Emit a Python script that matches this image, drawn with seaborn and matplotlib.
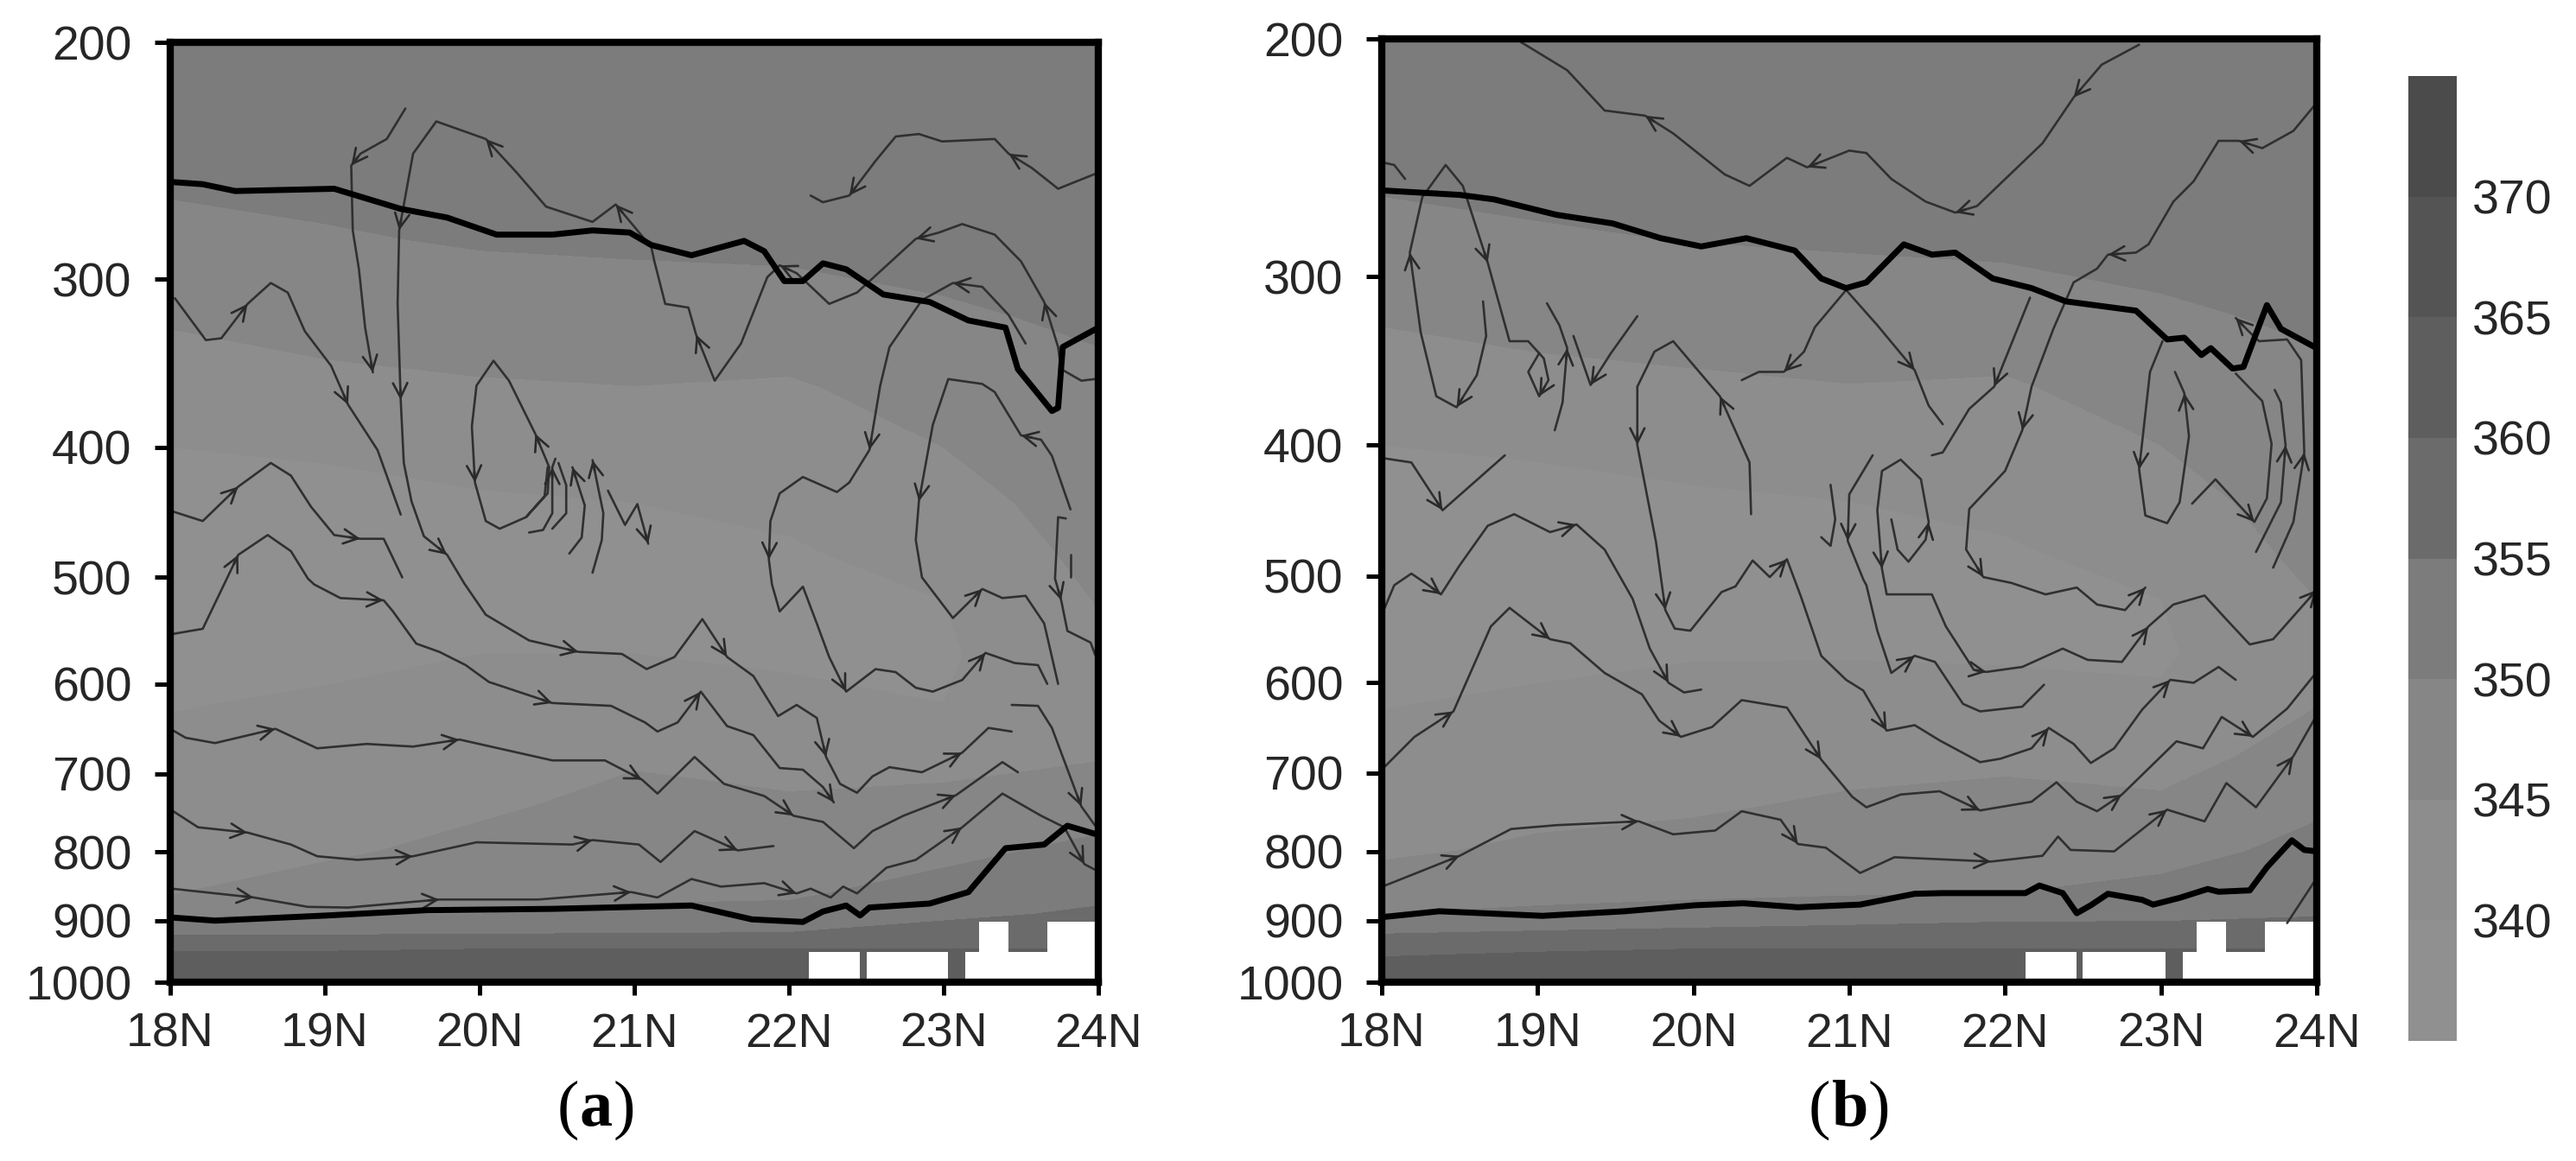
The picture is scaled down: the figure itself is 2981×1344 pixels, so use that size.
# Cross sections of equivalent potential temperature with streamlines
import numpy as np
import pandas as pd
import seaborn as sns
import matplotlib.pyplot as plt
from matplotlib.colors import ListedColormap, BoundaryNorm

# Axis ticks
lat_ticks = [18, 19, 20, 21, 22, 23, 24]
lat_labels = ['18N', '19N', '20N', '21N', '22N', '23N', '24N']
pres_ticks = [200, 300, 400, 500, 600, 700, 800, 900, 1000]
pres_labels = ['200', '300', '400', '500', '600', '700', '800', '900', '1000']

# Shading levels and colours from the colour bar
theta_levels = [335, 340, 345, 350, 355, 360, 365, 370, 375]
theta_ticks = [340, 345, 350, 355, 360, 365, 370]
theta_colors = ['#909090', '#8d8d8d', '#868686', '#7c7c7c', '#6b6b6b', '#5e5e5e', '#545454', '#4b4b4b']

# Theta grid, read by eye
grid_lat = [18, 19, 20, 21, 22, 23, 24]
grid_pres = [200, 280, 320, 360, 400, 440, 480, 520, 570, 620, 680, 740, 800, 860, 890, 920, 945, 1000]
theta_a = [
    [354, 354, 354, 354, 354, 354, 354],
    [348.8, 349.6, 350.4, 350.7, 351, 351.5, 352],
    [345.4, 346.8, 347.5, 347.9, 348, 349.4, 350.7],
    [343, 343.8, 344.6, 345, 344.5, 347.2, 349],
    [340, 340.4, 341.5, 342.5, 342.7, 345, 348],
    [339, 339, 339.5, 340, 340.9, 343.3, 347],
    [338, 338, 338.5, 339, 339.5, 341.7, 346.2],
    [337.5, 338, 338.5, 339, 338.7, 340, 345.2],
    [339, 339.3, 340, 340, 339.5, 339.5, 343.5],
    [339.8, 340.4, 340.9, 341.5, 340.8, 340, 344],
    [340.9, 341.7, 342.6, 344.5, 343.4, 343.5, 344.7],
    [342.2, 343, 344.3, 346.3, 345.7, 346.4, 348],
    [343.5, 344.3, 346.4, 347.8, 347.5, 348.8, 351.3],
    [344.9, 347.4, 348.8, 349.4, 349.4, 352, 354],
    [349.1, 349.8, 350, 350.7, 351.3, 354, 355.7],
    [354.5, 354.5, 354.8, 355, 355.2, 356.9, 358.1],
    [359.8, 359.8, 360, 360, 360, 360, 360],
    [363, 363, 363, 363, 363, 363, 363],
]
theta_b = [
    [354, 354, 354, 354, 354, 354, 354],
    [348.8, 349.6, 350.2, 350.6, 351, 351.5, 352],
    [345.4, 346.6, 347.3, 347.6, 347.9, 349.4, 350.7],
    [343, 343.6, 344.3, 345, 344.6, 347.2, 349],
    [340, 340.4, 341.2, 342.3, 342.8, 345, 348],
    [339, 339, 339.5, 340, 341, 343.3, 347],
    [338, 338, 338.5, 339, 339.5, 341.7, 346.2],
    [337.5, 338, 338.5, 339, 338.7, 340, 345],
    [339, 339.2, 339.8, 339.8, 339.5, 339.5, 343.5],
    [339.8, 340.5, 340.9, 341.2, 341.4, 340.5, 344.8],
    [341.1, 342.1, 342.6, 343.5, 344.1, 343.2, 346.9],
    [342.7, 343.8, 344.4, 345.7, 346.3, 345.8, 349.3],
    [344.3, 345.8, 346.7, 347.7, 348.1, 348.3, 351.4],
    [347.7, 348.8, 349.2, 349.7, 350, 351.5, 353.6],
    [350, 350.8, 351.8, 352.6, 353.5, 353.8, 354.6],
    [354.8, 355.6, 356.2, 356.7, 357.1, 356.9, 357.3],
    [359.1, 359.7, 360, 360, 360, 360, 360],
    [363, 363, 363, 363, 363, 363, 363],
]

# Missing data near the ground (same in both panels)
gap_left = [22.13, 22.50, 23.14, 23.23, 23.42, 23.67]
gap_right = [22.46, 23.03, 23.23, 23.42, 23.67, 24.0]
gap_top = [950, 950, 950, 902, 950, 902]

# Panel a: boundary layer top and tropopause, as (lat, hPa)
a_upper = [(18, 254), (18.21, 255), (18.42, 258), (19.06, 257), (19.49, 266), (19.79, 270), (20.11, 278), (20.47, 278),
           (20.73, 276), (20.97, 277), (21.11, 283), (21.37, 288), (21.71, 281), (21.84, 286), (21.97, 301), (22.09, 301),
           (22.22, 292), (22.37, 295), (22.61, 308), (22.91, 312), (23.16, 322), (23.40, 326), (23.48, 350), (23.70, 376),
           (23.74, 374), (23.77, 337), (24, 326)]
a_lower = [(18, 895), (18.29, 900), (19.02, 892), (19.66, 884), (20.47, 882), (21.37, 877), (21.76, 898), (22.09, 902),
           (22.22, 886), (22.37, 877), (22.46, 892), (22.52, 880), (22.91, 874), (23.16, 857), (23.40, 795), (23.65, 790),
           (23.80, 765), (24, 777)]

# Panel a: streamlines, in flow direction
a1 = [(19.52, 224), (19.40, 236), (19.23, 242), (19.17, 247), (19.18, 276), (19.22, 295), (19.26, 326), (19.31, 352)]
a2 = [(23.98, 356), (23.89, 357), (23.76, 350), (23.74, 337), (23.65, 312), (23.50, 291), (23.33, 278), (23.12, 273),
      (22.97, 277), (22.82, 280), (22.44, 307), (22.26, 313), (22.05, 297), (21.94, 293), (21.86, 299), (21.69, 335),
      (21.52, 357), (21.40, 330), (21.35, 315), (21.20, 313), (21.13, 291), (21.11, 284), (20.88, 264), (20.73, 272),
      (20.43, 265), (20.24, 250), (20.04, 236), (19.72, 229), (19.57, 242), (19.48, 276), (19.47, 313), (19.49, 369),
      (19.51, 411), (19.56, 439), (19.64, 466), (19.79, 481), (19.90, 505), (20.04, 533), (20.32, 557), (20.64, 568),
      (20.92, 570), (21.08, 585), (21.26, 573), (21.44, 537), (21.60, 573), (21.77, 592), (21.93, 634), (22.05, 622),
      (22.18, 636), (22.24, 680), (22.33, 712), (22.44, 723), (22.54, 703), (22.65, 692), (22.86, 698), (23.12, 675),
      (23.29, 647), (23.44, 651)]
a3 = [(18.03, 310), (18.23, 333), (18.33, 332), (18.50, 313), (18.65, 302), (18.76, 307), (18.87, 328), (19.04, 348),
      (19.15, 372), (19.34, 402), (19.49, 449)]
a4 = [(18.00, 446), (18.21, 454), (18.44, 428), (18.65, 411), (18.78, 420), (18.91, 443), (19.06, 465), (19.23, 468),
      (19.38, 468), (19.50, 500)]
a5 = [(18.01, 551), (18.21, 546), (18.44, 481), (18.63, 465), (18.78, 478), (18.89, 501), (18.93, 506), (19.10, 518),
      (19.38, 520), (19.44, 530), (19.59, 560), (19.74, 568), (19.91, 581), (20.06, 598), (20.47, 620), (20.85, 623),
      (21.07, 641), (21.15, 651), (21.28, 641), (21.43, 608), (21.60, 645), (21.77, 655), (21.94, 693), (22.09, 695),
      (22.22, 716), (22.29, 735)]
a6 = [(18.01, 649), (18.10, 658), (18.29, 664), (18.68, 648), (18.95, 670), (19.27, 665), (19.57, 668), (19.87, 660),
      (20.47, 684), (20.81, 684), (21.05, 707), (21.15, 724), (21.39, 680), (21.58, 712), (21.84, 727), (22.03, 752),
      (22.22, 760), (22.42, 795), (22.54, 772), (22.74, 752), (23.08, 726), (23.38, 686), (23.48, 698)]
a7 = [(18.01, 745), (18.18, 767), (18.50, 774), (18.78, 790), (18.95, 806), (19.21, 811), (19.57, 806), (19.98, 787),
      (20.60, 790), (20.73, 784), (21.03, 790), (21.17, 814), (21.39, 772), (21.67, 798), (21.90, 792)]
a8 = [(18.01, 852), (18.54, 865), (18.89, 879), (19.15, 880), (19.74, 868), (20.38, 868), (20.98, 857), (21.15, 865),
      (21.37, 838), (21.56, 849), (21.84, 844), (22.05, 859), (22.14, 852), (22.27, 865), (22.35, 849), (22.44, 859),
      (22.63, 822), (22.82, 811), (23.12, 767), (23.38, 724), (23.63, 752), (23.78, 767), (23.91, 817), (23.98, 825)]
a9 = [(23.44, 622), (23.61, 623), (23.70, 647), (23.89, 740), (23.98, 765)]
a10 = [(24, 250), (23.85, 254), (23.74, 257), (23.57, 248), (23.42, 242), (23.33, 236), (22.99, 237), (22.84, 234),
       (22.69, 235), (22.56, 245), (22.39, 260), (22.22, 263), (22.14, 260)]
a11 = [(20.30, 451), (20.44, 433), (20.45, 414), (20.36, 391), (20.19, 357), (20.09, 345), (19.98, 360), (19.95, 386),
       (19.97, 425), (20.04, 454), (20.13, 460), (20.30, 451), (20.42, 435), (20.44, 414)]
a12 = [(20.32, 463), (20.41, 461), (20.47, 448), (20.47, 414), (20.49, 408)]
a13 = [(20.47, 460), (20.56, 448), (20.56, 427), (20.51, 411)]
a14 = [(20.58, 480), (20.66, 467), (20.68, 442), (20.60, 414)]
a15 = [(20.73, 496), (20.79, 469), (20.80, 448), (20.73, 409)]
a16 = [(20.83, 431), (20.94, 457), (21.02, 441), (21.09, 472)]
a17 = [(23.53, 335), (23.42, 319), (23.25, 304), (23.06, 302), (22.86, 311), (22.65, 337), (22.59, 360), (22.52, 402),
       (22.39, 425), (22.31, 432), (22.09, 421), (21.94, 433), (21.88, 454), (21.87, 485), (21.89, 506), (21.94, 530),
       (22.09, 508), (22.18, 541), (22.26, 573), (22.37, 608), (22.56, 585), (22.69, 588), (22.82, 604), (22.93, 608),
       (23.12, 596), (23.27, 569), (23.46, 579), (23.61, 581), (23.67, 600)]
a18 = [(23.82, 445), (23.70, 406), (23.63, 395), (23.50, 392), (23.33, 364), (23.25, 359), (23.03, 356), (22.93, 385),
       (22.84, 439), (22.82, 469), (22.86, 500), (23.06, 536), (23.25, 510), (23.38, 518), (23.53, 516), (23.65, 541),
       (23.74, 600)]
a19 = [(23.79, 452), (23.74, 451), (23.72, 501), (23.76, 520), (23.80, 548), (23.95, 559), (23.98, 571)]
a20 = [(23.82, 500), (23.82, 481)]

# Panel b: boundary layer top and tropopause
b_upper = [(18, 259), (18.50, 261), (18.72, 263), (19.12, 270), (19.48, 274), (19.79, 281), (20.05, 285), (20.34, 281),
           (20.65, 287), (20.82, 301), (20.98, 306), (21.11, 303), (21.35, 284), (21.53, 289), (21.68, 288), (21.92, 301),
           (22.17, 306), (22.39, 313), (22.84, 318), (23.04, 334), (23.15, 333), (23.26, 343), (23.32, 339), (23.46, 351),
           (23.53, 350), (23.68, 315), (23.77, 328), (24, 339)]
b_lower = [(18, 895), (18.37, 886), (19.03, 893), (19.56, 886), (20.01, 877), (20.32, 874), (20.67, 880), (21.07, 876),
           (21.42, 860), (21.60, 859), (22.13, 859), (22.22, 848), (22.37, 859), (22.46, 889), (22.55, 877), (22.66, 860),
           (22.88, 869), (22.95, 876), (23.12, 866), (23.30, 853), (23.37, 857), (23.57, 855), (23.68, 822), (23.84, 785),
           (23.92, 798), (24, 800)]

# Panel b: streamlines, in flow direction
b1 = [(22.86, 202), (22.62, 209), (22.44, 221), (22.24, 239), (21.82, 266), (21.68, 269), (21.49, 264), (21.27, 254),
      (21.11, 243), (21.00, 242), (20.73, 249), (20.60, 245), (20.36, 257), (20.20, 252), (19.87, 235), (19.69, 228),
      (19.43, 226), (19.19, 211), (18.89, 201)]
b2 = [(24, 223), (23.85, 234), (23.65, 241), (23.50, 238), (23.37, 238), (23.21, 255), (23.08, 264), (22.92, 284),
      (22.84, 288), (22.66, 289), (22.59, 296), (22.44, 303), (22.31, 328), (22.17, 362), (22.11, 390), (22.00, 418),
      (21.77, 446), (21.75, 478), (21.86, 501), (22.04, 506), (22.26, 516), (22.46, 510), (22.59, 525), (22.77, 530),
      (22.90, 510)]
b3 = [(18.01, 247), (18.08, 248), (18.15, 254)]
b4 = [(18.65, 313), (18.67, 332), (18.61, 355), (18.48, 375), (18.35, 368), (18.25, 330), (18.18, 288), (18.26, 262),
      (18.41, 248), (18.52, 257), (18.68, 293), (18.82, 335), (18.94, 335), (19.04, 345), (19.07, 358), (19.01, 368),
      (18.94, 353), (19.01, 342)]
b5 = [(19.11, 390), (19.16, 372), (19.19, 339), (19.14, 326), (19.06, 314)]
b6 = [(19.64, 321), (19.47, 342), (19.34, 361), (19.23, 332)]
b7 = [(20.37, 450), (20.36, 412), (20.17, 368), (19.87, 335), (19.75, 341), (19.64, 362), (19.64, 400), (19.76, 472),
      (19.82, 530), (19.88, 547), (19.98, 549), (20.18, 514), (20.27, 509), (20.38, 487), (20.49, 501), (20.60, 486),
      (20.69, 518), (20.82, 573), (20.98, 597), (21.09, 608), (21.24, 651), (21.42, 645), (21.58, 662), (21.84, 687),
      (21.97, 683), (22.17, 671), (22.28, 648), (22.44, 666), (22.55, 688), (22.70, 671), (22.88, 628), (23.06, 597),
      (23.21, 600), (23.37, 584), (23.48, 597)]
b8 = [(18.01, 531), (18.08, 508), (18.19, 498), (18.30, 508), (18.38, 516), (18.50, 491), (18.68, 459), (18.85, 450),
      (19.08, 464), (19.25, 458), (19.43, 478), (19.61, 520), (19.72, 566), (19.84, 600), (19.94, 610), (20.05, 607)]
b9 = [(18.01, 694), (18.21, 658), (18.46, 630), (18.70, 545), (18.82, 528), (19.08, 557), (19.21, 561), (19.43, 590),
      (19.67, 612), (19.78, 640), (19.92, 658), (20.12, 647), (20.31, 618), (20.60, 626), (20.82, 684), (21.02, 729),
      (21.11, 742), (21.33, 726), (21.58, 722), (21.84, 746), (22.17, 735), (22.33, 711), (22.46, 735), (22.59, 747),
      (22.75, 726), (23.10, 663), (23.27, 671), (23.39, 636), (23.59, 658), (23.81, 627), (24, 589)]
b10 = [(18.01, 409), (18.19, 412), (18.39, 447), (18.79, 407)]
b11 = [(20.98, 307), (20.78, 327), (20.71, 341), (20.58, 353), (20.42, 353), (20.31, 358)]
b12 = [(20.98, 307), (21.18, 326), (21.42, 352), (21.51, 374), (21.60, 386)]
b13 = [(22.16, 311), (21.93, 362), (21.77, 376), (21.60, 405), (21.53, 407)]
b14 = [(23.01, 335), (22.93, 353), (22.86, 417), (22.90, 451), (23.04, 457), (23.12, 441), (23.18, 394), (23.15, 366),
       (23.09, 353)]
b15 = [(23.72, 493), (23.85, 456), (23.92, 405), (23.90, 346), (23.81, 334), (23.63, 335), (23.57, 330), (23.48, 322)]
b16 = [(23.20, 442), (23.35, 424), (23.60, 456), (23.68, 438), (23.71, 399), (23.65, 371), (23.48, 354)]
b17 = [(23.61, 480), (23.77, 441), (23.80, 400), (23.77, 372), (23.73, 364)]
b18 = [(21.27, 454), (21.31, 478), (21.38, 488), (21.49, 470), (21.51, 456), (21.46, 424), (21.33, 410), (21.21, 418),
       (21.18, 447), (21.21, 494), (21.24, 516), (21.53, 516), (21.62, 545), (21.80, 587), (21.88, 589), (22.11, 584),
       (22.37, 566), (22.53, 577), (22.75, 579), (22.92, 545), (23.08, 525), (23.28, 517), (23.41, 537), (23.57, 562),
       (23.72, 557), (24, 512)]
b19 = [(21.15, 407), (21.00, 435), (20.99, 471), (21.09, 503), (21.11, 508), (21.18, 549), (21.27, 590), (21.42, 573),
       (21.55, 579), (21.73, 622), (21.84, 630), (22.11, 625), (22.25, 602)]
b20 = [(20.88, 428), (20.91, 454), (20.88, 475), (20.82, 468)]
b21 = [(18.01, 849), (18.50, 806), (18.83, 770), (19.12, 765), (19.65, 760), (19.87, 777), (20.14, 772), (20.31, 747),
       (20.56, 758), (20.67, 790), (20.85, 795), (21.07, 830), (21.29, 808), (21.91, 814), (22.24, 806), (22.34, 780),
       (22.42, 798), (22.70, 800), (23.04, 745), (23.28, 760), (23.42, 712), (23.61, 742), (23.85, 680), (24, 634)]
b22 = [(23.81, 904), (24, 837)]

a_streams = [a1, a2, a3, a4, a5, a6, a7, a8, a9, a10, a11, a12, a13, a14, a15, a16, a17, a18, a19, a20]
b_streams = [b1, b2, b3, b4, b5, b6, b7, b8, b9, b10, b11, b12, b13, b14, b15, b16, b17, b18, b19, b20, b21, b22]

sns.set_theme(style='ticks')
plt.rcParams['font.family'] = ['Liberation Sans']

W, H = 2981, 1344
fig = plt.figure(figsize=(W / 100, H / 100), dpi=100, facecolor='white')


def box(x0, x1, y0, y1):
    return [x0 / W, 1 - y1 / H, (x1 - x0) / W, (y1 - y0) / H]


ax_a = fig.add_axes(box(197, 1271, 49, 1137))
ax_b = fig.add_axes(box(1599, 2681, 45, 1137))
cax = fig.add_axes(box(2787, 2843, 88, 1205))

cmap = ListedColormap(theta_colors)
norm = BoundaryNorm(theta_levels, cmap.N)


def add_arrows(ax, line, spacing=190, first=90):
    pts = ax.transData.transform(np.array(line, dtype=float))
    travelled = 0
    target = first
    for i in range(1, len(pts)):
        seg = pts[i] - pts[i - 1]
        length = np.hypot(*seg)
        travelled += length
        if travelled >= target and length > 0:
            ux, uy = seg / length
            ax.annotate('', xy=line[i], xycoords='data',
                        xytext=(-ux * 9, -uy * 9), textcoords='offset points',
                        arrowprops=dict(arrowstyle='->,head_length=0.6,head_width=0.3', color='#2a2a2a',
                                        lw=1.9, shrinkA=0, shrinkB=0, mutation_scale=20), zorder=4)
            target = travelled + spacing


def draw_panel(ax, theta, streams, upper, lower):
    ax.set_yscale('log')
    ax.set_xlim(18, 24)
    ax.set_ylim(1000, 200)
    cf = ax.contourf(grid_lat, grid_pres, theta, levels=theta_levels, cmap=cmap, norm=norm, zorder=1)
    ax.bar(gap_left, np.array(gap_top) - 1000, bottom=1000,
           width=np.array(gap_right) - np.array(gap_left), align='edge', color='white', linewidth=0, zorder=2)
    for line in streams:
        df = pd.DataFrame(line, columns=['lat', 'pres'])
        sns.lineplot(data=df, x='lat', y='pres', sort=False, estimator=None, ax=ax,
                     color='#303030', linewidth=1.9, solid_joinstyle='round', zorder=3)
        add_arrows(ax, line)
    for line in (upper, lower):
        df = pd.DataFrame(line, columns=['lat', 'pres'])
        sns.lineplot(data=df, x='lat', y='pres', sort=False, estimator=None, ax=ax,
                     color='black', linewidth=5, solid_joinstyle='round', zorder=5)
    ax.set_xlabel('')
    ax.set_ylabel('')
    ax.set_xticks(lat_ticks)
    ax.set_xticklabels(lat_labels, fontsize=40)
    ax.set_yticks(pres_ticks)
    ax.set_yticklabels(pres_labels, fontsize=40)
    ax.minorticks_off()
    ax.tick_params(axis='x', length=11, width=3.6, pad=14, color='black')
    ax.tick_params(axis='y', length=13, width=3.6, pad=19, color='black')
    for spine in ax.spines.values():
        spine.set_visible(True)
        spine.set_linewidth(6)
        spine.set_color('black')
        spine.set_zorder(6)
    return cf


cf_a = draw_panel(ax_a, theta_a, a_streams, a_upper, a_lower)
cf_b = draw_panel(ax_b, theta_b, b_streams, b_upper, b_lower)

# Panel captions: regular brackets around a bold letter
for xc, half, letter in [(690, 20, 'a'), (2140, 22, 'b')]:
    y = 1 - 1285 / H
    fig.text(xc / W, y, letter, family='Liberation Serif', weight='bold', fontsize=55,
             ha='center', va='center', color='black')
    fig.text((xc - half) / W, y, '(', family='Liberation Serif', fontsize=55, ha='right', va='center', color='black')
    fig.text((xc + half) / W, y, ')', family='Liberation Serif', fontsize=55, ha='left', va='center', color='black')

cbar = fig.colorbar(cf_a, cax=cax, ticks=theta_ticks, drawedges=False)
cbar.outline.set_visible(False)
cbar.ax.minorticks_off()
cbar.ax.tick_params(which='both', length=0, pad=13, labelsize=40)
cbar.set_ticklabels([str(t) for t in theta_ticks])

fig.savefig('out.png', dpi=100, facecolor='white')
